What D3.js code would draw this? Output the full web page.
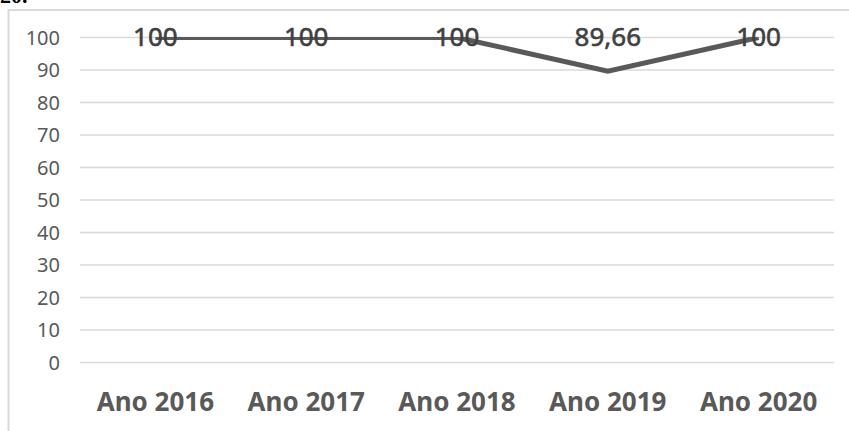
<style>
  body { margin: 0; background: #fff; }
  .grid line { stroke: #d9d9d9; stroke-width: 1.5px; }
  .ytick { font-family: 'Noto Sans', sans-serif; font-size: 20px; fill: #595959; }
  .xtick { font-family: 'Noto Sans', sans-serif; font-size: 26px; font-weight: bold; fill: #595959; }
  .dlabel { font-family: 'Noto Sans', sans-serif; font-size: 26px; fill: #404040; stroke: #404040; stroke-width: 0.6px; }
  .serie { fill: none; stroke: #595959; stroke-width: 5px; stroke-linejoin: miter; }
</style>
<body>
<div id="chart"></div>
<script src="https://d3js.org/d3.v7.min.js"></script>
<script>
var anos = ['Ano 2016', 'Ano 2017', 'Ano 2018', 'Ano 2019', 'Ano 2020'];
var valores = [100, 100, 100, 89.66, 100];
var rotulos = ['100', '100', '100', '89,66', '100'];
var yTicks = [0, 10, 20, 30, 40, 50, 60, 70, 80, 90, 100];

var width = 849;
var height = 431;

var x = d3.scaleBand()
    .domain(anos)
    .range([80, 834]);

var y = d3.scaleLinear()
    .domain([0, 100])
    .range([362.5, 37.5]);

var svg = d3.select('#chart').append('svg')
    .attr('width', width)
    .attr('height', height);

// pedaço do titulo cortado no topo
svg.append('text')
    .attr('x', 0)
    .attr('y', 3)
    .style('font-family', 'Liberation Serif, serif')
    .style('font-weight', 'bold')
    .style('font-size', '22px')
    .text('20.');

// moldura
svg.append('rect')
    .attr('x', 8.5)
    .attr('y', 10)
    .attr('width', 860)
    .attr('height', 440)
    .attr('fill', 'none')
    .attr('stroke', '#d9d9d9')
    .attr('stroke-width', 2);

svg.append('g')
    .attr('class', 'grid')
  .selectAll('line')
    .data(yTicks)
    .enter().append('line')
    .attr('x1', 80)
    .attr('x2', 834)
    .attr('y1', function (d) { return y(d); })
    .attr('y2', function (d) { return y(d); });

svg.append('g')
  .selectAll('text')
    .data(yTicks)
    .enter().append('text')
    .attr('class', 'ytick')
    .attr('x', 60)
    .attr('y', function (d) { return y(d); })
    .attr('dy', '0.36em')
    .attr('text-anchor', 'end')
    .text(function (d) { return d; });

svg.append('g')
  .selectAll('text')
    .data(anos)
    .enter().append('text')
    .attr('class', 'xtick')
    .attr('x', function (d) { return x(d) + x.bandwidth() / 2; })
    .attr('y', 411)
    .attr('text-anchor', 'middle')
    .text(function (d) { return d; });

svg.append('clipPath')
    .attr('id', 'plot')
  .append('rect')
    .attr('x', 0)
    .attr('y', y(100) - 0.5)
    .attr('width', width)
    .attr('height', height);

var line = d3.line()
    .x(function (d, i) { return x(anos[i]) + x.bandwidth() / 2; })
    .y(function (d) { return y(d); });

svg.append('path')
    .datum(valores)
    .attr('class', 'serie')
    .attr('clip-path', 'url(#plot)')
    .attr('d', line);

// rotulos acima do ponto, presos ao topo da area
svg.append('g')
  .selectAll('text')
    .data(valores)
    .enter().append('text')
    .attr('class', 'dlabel')
    .attr('x', function (d, i) { return x(anos[i]) + x.bandwidth() / 2; })
    .attr('y', function (d) { return Math.max(y(d) - 25, y(100) + 8); })
    .attr('text-anchor', 'middle')
    .text(function (d, i) { return rotulos[i]; });
</script>
</body>
